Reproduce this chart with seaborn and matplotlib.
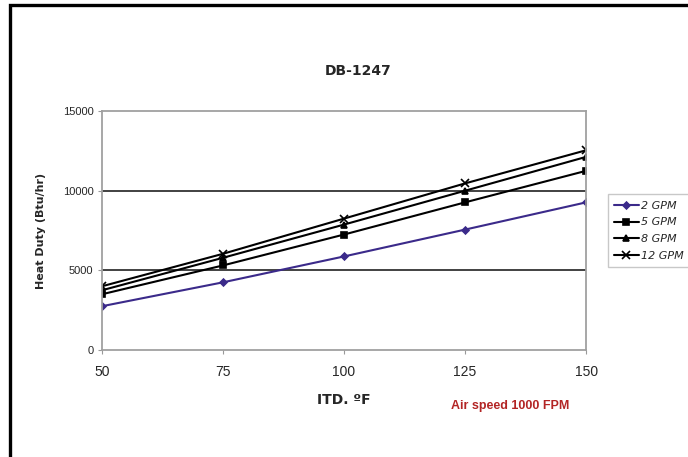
import numpy as np
import pandas as pd
import matplotlib
matplotlib.use("Agg")
import matplotlib.pyplot as plt
import seaborn as sns
from matplotlib.patches import Rectangle

itd = [50, 75, 100, 125, 150]
gpm_2 = [2750, 4250, 5875, 7560, 9270]
gpm_5 = [3500, 5310, 7250, 9270, 11250]
gpm_8 = [3750, 5790, 7875, 10000, 12125]
gpm_12 = [4000, 6040, 8250, 10460, 12540]
series_names = ["2 GPM", "5 GPM", "8 GPM", "12 GPM"]
y_ticks = [0, 5000, 10000, 15000]

df = pd.DataFrame({
    "ITD": itd * 4,
    "duty": gpm_2 + gpm_5 + gpm_8 + gpm_12,
    "flow": [n for n in series_names for _ in itd],
})

sns.set_style("white")
plt.rcParams["font.family"] = ["Liberation Sans", "DejaVu Sans"]

fig = plt.figure(figsize=(6.88, 4.57), dpi=100)
ax = fig.add_axes([0.148, 0.234, 0.704, 0.523])

colors = {"2 GPM": "#3b2a8a", "5 GPM": "black", "8 GPM": "black", "12 GPM": "black"}
markers = {"2 GPM": "D", "5 GPM": "s", "8 GPM": "^", "12 GPM": "x"}
sizes = {"2 GPM": 3.5, "5 GPM": 4.5, "8 GPM": 4.5, "12 GPM": 5.5}

for name in series_names:
    sub = df[df["flow"] == name]
    sns.lineplot(data=sub, x="ITD", y="duty", ax=ax, color=colors[name],
                 marker=markers[name], markersize=sizes[name], linewidth=1.5,
                 markeredgecolor=colors[name], markeredgewidth=1.2, label=name)

for v in [5000, 10000]:
    ax.axhline(v, color="#333333", linewidth=1.3, zorder=0)

ax.set_xlim(50, 150)
ax.set_ylim(0, 15000)
ax.set_xticks(itd)
ax.set_yticks(y_ticks)
ax.tick_params(axis="x", labelsize=10, length=3, color="#999999", pad=8, bottom=True)
ax.tick_params(axis="y", labelsize=8, length=3, color="#999999", pad=3, left=True)
for s in ax.spines.values():
    s.set_color("#a0a0a0")
    s.set_linewidth(1.3)

ax.set_xlabel("ITD. ºF", fontsize=10, fontweight="bold", family="DejaVu Sans", labelpad=10)
ax.set_ylabel("Heat Duty (Btu/hr)", fontsize=8, fontweight="bold", family="DejaVu Sans", labelpad=12)
fig.text(0.52, 0.845, "DB-1247", ha="center", va="center", fontsize=10,
         fontweight="bold", family="DejaVu Sans")
fig.text(0.742, 0.112, "Air speed 1000 FPM", ha="center", va="center",
         fontsize=9, fontweight="bold", color="#b32525")

leg = ax.legend(loc="center left", bbox_to_anchor=(0.883, 0.495),
                bbox_transform=fig.transFigure, frameon=True, fancybox=False,
                fontsize=8, handlelength=2.2, handletextpad=0.2,
                borderpad=0.6, labelspacing=0.6, borderaxespad=0)
leg.get_frame().set_edgecolor("#bbbbbb")
leg.get_frame().set_linewidth(1.0)
for t in leg.get_texts():
    t.set_fontstyle("italic")
    t.set_family("DejaVu Sans")

fig.patches.append(Rectangle((0.015, -0.1), 1.2, (1 - 0.012) + 0.1,
                             transform=fig.transFigure, fill=False,
                             edgecolor="black", linewidth=2.4))

fig.savefig("out.png", dpi=100)
